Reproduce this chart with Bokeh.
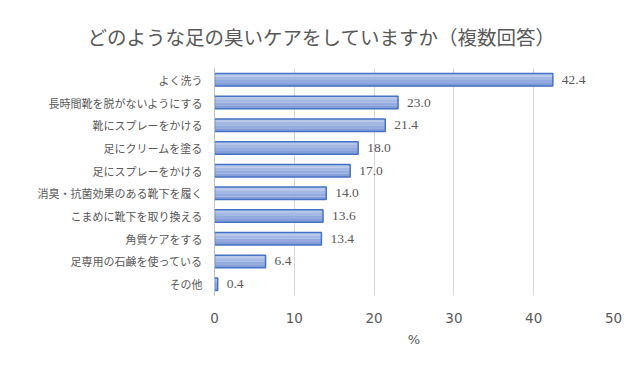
from bokeh.plotting import figure
from bokeh.models import ColumnDataSource, FactorRange, Range1d, FixedTicker, LabelSet, Title
from bokeh.transform import dodge
from bokeh.embed import file_html
from bokeh.resources import INLINE

title_text = "どのような足の臭いケアをしていますか（複数回答）"
categories = [
    "よく洗う",
    "長時間靴を脱がないようにする",
    "靴にスプレーをかける",
    "足にクリームを塗る",
    "足にスプレーをかける",
    "消臭・抗菌効果のある靴下を履く",
    "こまめに靴下を取り換える",
    "角質ケアをする",
    "足専用の石鹸を使っている",
    "その他",
]
values = [42.4, 23.0, 21.4, 18.0, 17.0, 14.0, 13.6, 13.4, 6.4, 0.4]
x_ticks = [0, 10, 20, 30, 40, 50]
x_label = "%"

FONT = "Noto Sans CJK JP"
NUMFONT = "DejaVu Sans"
GREY = "#595959"

source = ColumnDataSource(dict(
    cat=categories,
    val=values,
    lab=["%.1f" % v for v in values],
))

p = figure(
    width=624, height=358,
    y_range=FactorRange(factors=list(reversed(categories))),
    x_range=Range1d(0, 50),
    output_backend="svg", toolbar_location=None,
    min_border_left=214, min_border_right=11,
    min_border_top=68, min_border_bottom=63,
    background_fill_color="white", border_fill_color="white",
)
p.outline_line_color = None

BH = 0.55
strip_cols = ["#b7c8ea", "#a3b8e3", "#93abde", "#869fd8"]
n = len(strip_cols)
sh = BH / n
for i, c in enumerate(strip_cols):
    off = BH / 2 - sh / 2 - i * sh
    p.hbar(y=dodge("cat", off, range=p.y_range), right="val", left=0, height=sh + 0.005,
           source=source, fill_color=c, line_color=None)
p.hbar(y="cat", right="val", left=0, height=BH, source=source,
       fill_color=None, line_color="#4472C4", line_width=1.5)

labels = LabelSet(x="val", y="cat", text="lab", source=source, x_offset=9, y_offset=0,
                  text_baseline="middle", text_font=NUMFONT, text_font_size="13.5px",
                  text_color=GREY)
p.add_layout(labels)

p.xaxis.ticker = FixedTicker(ticks=x_ticks)
p.xaxis.axis_line_color = None
p.xaxis.major_tick_line_color = None
p.xaxis.minor_tick_line_color = None
p.xaxis.major_label_text_font = NUMFONT
p.xaxis.major_label_text_font_size = "13.5px"
p.xaxis.major_label_text_color = GREY
p.xaxis.major_label_standoff = 11
p.xaxis.axis_label = x_label
p.xaxis.axis_label_text_font = NUMFONT
p.xaxis.axis_label_text_font_size = "13px"
p.xaxis.axis_label_text_font_style = "normal"
p.xaxis.axis_label_text_color = GREY
p.xaxis.axis_label_standoff = 6

p.yaxis.axis_line_color = "#bfbfbf"
p.yaxis.major_tick_line_color = None
p.yaxis.minor_tick_line_color = None
p.yaxis.major_label_text_font = FONT
p.yaxis.major_label_text_font_size = "11px"
p.yaxis.major_label_text_color = GREY
p.yaxis.major_label_standoff = 6

p.xgrid.ticker = FixedTicker(ticks=x_ticks)
p.xgrid.grid_line_color = "#d9d9d9"
p.ygrid.grid_line_color = None

# Chart title, shifted left so that it is centred over the whole chart area
p.title = Title(text=title_text, align="left", offset=-127, text_font=FONT,
                text_font_size="19.5px", text_color=GREY, text_font_style="normal",
                standoff=36)

open("out.html", "w").write(file_html(p, INLINE))
